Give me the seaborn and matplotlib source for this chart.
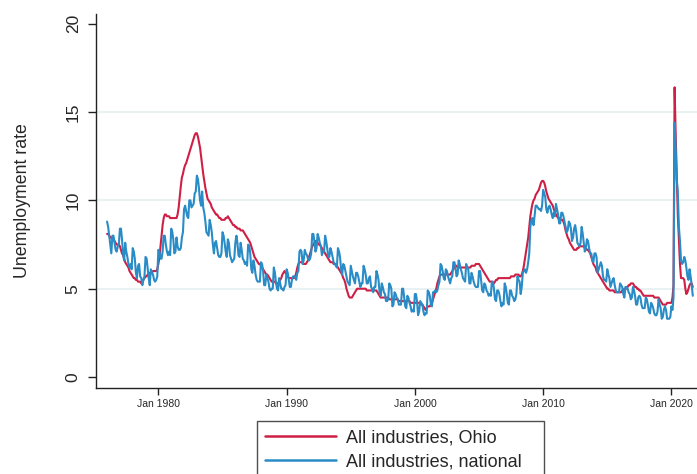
import matplotlib
matplotlib.use("Agg")
import matplotlib.pyplot as plt
import pandas as pd
import seaborn as sns

# Monthly unemployment rates, Jan 1976 - Sep 2021 (one row per year)
ohio_rate = [
    8.1, 8.1, 8.0, 7.9, 7.9, 7.8, 7.8, 7.7, 7.6, 7.5, 7.5, 7.5,
    7.4, 7.2, 7.0, 6.9, 6.7, 6.5, 6.4, 6.3, 6.2, 6.0, 5.9, 5.8,
    5.7, 5.6, 5.6, 5.5, 5.5, 5.4, 5.4, 5.4, 5.3, 5.4, 5.5, 5.6,
    5.7, 5.7, 5.8, 5.8, 5.9, 5.9, 5.9, 6.0, 6.0, 6.0, 6.0, 6.1,
    6.4, 6.8, 7.4, 8.0, 8.6, 9.0, 9.2, 9.2, 9.1, 9.1, 9.1, 9.0,
    9.0, 9.0, 9.0, 9.0, 9.0, 9.0, 9.2, 9.6, 10.2, 10.8, 11.3, 11.5,
    11.8, 12.0, 12.1, 12.3, 12.5, 12.7, 12.9, 13.1, 13.3, 13.5, 13.7, 13.8,
    13.8, 13.6, 13.3, 13.0, 12.5, 12.0, 11.5, 11.1, 10.7, 10.4, 10.1, 10.0,
    9.9, 9.8, 9.6, 9.5, 9.4, 9.3, 9.2, 9.2, 9.1, 9.0, 9.0, 8.9,
    8.9, 8.9, 8.9, 9.0, 9.0, 9.1, 9.0, 8.9, 8.8, 8.7, 8.6, 8.6,
    8.5, 8.5, 8.4, 8.4, 8.4, 8.3, 8.3, 8.3, 8.2, 8.1, 8.0, 7.9,
    7.8, 7.7, 7.6, 7.4, 7.2, 7.0, 6.8, 6.7, 6.6, 6.5, 6.4, 6.4,
    6.3, 6.2, 6.1, 6.0, 5.9, 5.8, 5.8, 5.7, 5.6, 5.5, 5.4, 5.4,
    5.4, 5.4, 5.3, 5.3, 5.3, 5.4, 5.5, 5.6, 5.8, 5.9, 6.0, 5.9,
    5.8, 5.7, 5.6, 5.6, 5.6, 5.6, 5.6, 5.6, 5.7, 5.9, 6.2, 6.4,
    6.5, 6.5, 6.5, 6.5, 6.4, 6.4, 6.4, 6.5, 6.6, 6.8, 7.0, 7.2,
    7.4, 7.5, 7.6, 7.7, 7.6, 7.6, 7.5, 7.5, 7.4, 7.3, 7.2, 7.1,
    7.0, 6.9, 6.8, 6.7, 6.6, 6.5, 6.5, 6.5, 6.4, 6.4, 6.4, 6.3,
    6.2, 6.1, 6.0, 5.9, 5.8, 5.6, 5.5, 5.3, 5.0, 4.8, 4.6, 4.5,
    4.5, 4.5, 4.6, 4.7, 4.8, 4.9, 5.0, 5.0, 5.0, 5.0, 5.0, 5.0,
    5.0, 5.0, 5.0, 4.9, 4.9, 4.9, 4.9, 4.9, 4.9, 4.9, 4.9, 4.9,
    4.9, 4.8, 4.7, 4.6, 4.5, 4.5, 4.5, 4.5, 4.5, 4.5, 4.5, 4.5,
    4.4, 4.4, 4.4, 4.4, 4.4, 4.4, 4.4, 4.4, 4.4, 4.3, 4.3, 4.3,
    4.3, 4.3, 4.3, 4.3, 4.3, 4.3, 4.3, 4.3, 4.2, 4.2, 4.2, 4.2,
    4.2, 4.2, 4.2, 4.2, 4.2, 4.2, 4.1, 4.1, 4.0, 3.9, 3.8, 3.9,
    4.0, 4.0, 4.0, 4.1, 4.2, 4.4, 4.6, 4.8, 5.0, 5.3, 5.5, 5.7,
    5.8, 5.8, 5.8, 5.8, 5.8, 5.8, 5.8, 5.8, 5.8, 5.8, 5.9, 6.0,
    6.1, 6.2, 6.3, 6.3, 6.2, 6.2, 6.2, 6.2, 6.2, 6.2, 6.2, 6.2,
    6.2, 6.2, 6.2, 6.2, 6.2, 6.3, 6.3, 6.3, 6.3, 6.4, 6.4, 6.4,
    6.4, 6.3, 6.2, 6.1, 6.0, 5.9, 5.8, 5.7, 5.6, 5.5, 5.4, 5.4,
    5.4, 5.3, 5.3, 5.4, 5.5, 5.5, 5.6, 5.6, 5.6, 5.6, 5.6, 5.6,
    5.6, 5.6, 5.6, 5.6, 5.6, 5.6, 5.7, 5.7, 5.7, 5.7, 5.8, 5.8,
    5.8, 5.8, 5.7, 5.7, 5.8, 6.0, 6.3, 6.7, 7.1, 7.5, 7.9, 8.5,
    9.1, 9.5, 9.8, 10.0, 10.1, 10.3, 10.4, 10.5, 10.6, 10.8, 11.0, 11.1,
    11.1, 11.0, 10.8, 10.5, 10.3, 10.1, 10.0, 9.9, 9.8, 9.7, 9.5, 9.3,
    9.2, 9.1, 9.0, 9.0, 8.9, 8.9, 8.9, 8.8, 8.6, 8.3, 8.1, 7.9,
    7.8, 7.6, 7.5, 7.4, 7.3, 7.2, 7.2, 7.2, 7.3, 7.3, 7.4, 7.4,
    7.4, 7.4, 7.4, 7.3, 7.3, 7.2, 7.2, 7.1, 7.0, 6.8, 6.6, 6.4,
    6.3, 6.2, 6.0, 5.9, 5.8, 5.7, 5.6, 5.5, 5.4, 5.3, 5.2, 5.1,
    5.0, 5.0, 4.9, 4.9, 4.9, 4.9, 4.9, 4.8, 4.8, 4.8, 4.8, 4.8,
    4.8, 4.8, 4.9, 4.9, 5.0, 5.0, 5.0, 5.1, 5.2, 5.2, 5.3, 5.3,
    5.3, 5.2, 5.1, 5.1, 5.0, 5.0, 4.9, 4.9, 4.8, 4.7, 4.6, 4.6,
    4.6, 4.6, 4.6, 4.6, 4.6, 4.6, 4.6, 4.6, 4.5, 4.5, 4.5, 4.5,
    4.5, 4.4, 4.3, 4.2, 4.1, 4.1, 4.1, 4.1, 4.2, 4.2, 4.2, 4.2,
    4.2, 4.5, 5.2, 16.4, 13.8, 11.4, 9.2, 7.8, 6.4, 5.6, 5.6, 5.6,
    5.5, 5.0, 4.7, 4.8, 5.0, 5.2, 5.3, 5.3, 5.1,
]

national_rate = [
    8.8, 8.5, 8.0, 7.5, 7.0, 8.0, 8.0, 7.6, 7.2, 7.1, 7.4, 7.5,
    8.4, 8.4, 7.8, 7.0, 6.6, 7.6, 7.1, 6.8, 6.4, 6.2, 6.4, 6.1,
    7.3, 7.1, 6.7, 5.9, 5.6, 6.3, 6.4, 5.7, 5.6, 5.2, 5.5, 5.7,
    6.8, 6.7, 6.2, 5.6, 5.2, 6.1, 5.9, 5.8, 5.5, 5.4, 5.5, 5.7,
    7.2, 7.1, 6.7, 6.7, 7.1, 8.0, 8.0, 7.5, 7.1, 6.9, 7.1, 6.9,
    8.4, 8.2, 7.8, 7.0, 7.1, 7.9, 7.4, 7.2, 7.2, 7.3, 7.9, 8.2,
    9.5, 9.7, 9.4, 9.1, 9.0, 10.0, 10.0, 9.6, 9.7, 9.8, 10.4, 10.5,
    11.4, 11.2, 10.7, 10.0, 9.7, 10.5, 9.6, 9.3, 8.8, 8.2, 8.1, 8.0,
    8.9, 8.6, 8.2, 7.5, 7.0, 7.6, 7.7, 7.3, 6.9, 6.8, 6.8, 7.0,
    8.2, 8.0, 7.6, 7.1, 6.8, 7.8, 7.6, 6.9, 6.7, 6.5, 6.6, 6.7,
    7.6, 8.0, 7.6, 6.9, 6.8, 7.6, 7.2, 6.7, 6.6, 6.4, 6.5, 6.3,
    7.5, 7.4, 7.0, 6.1, 5.9, 6.6, 6.3, 5.8, 5.5, 5.4, 5.4, 5.4,
    6.5, 6.4, 6.0, 5.2, 5.2, 5.8, 5.6, 5.4, 5.0, 4.9, 5.0, 5.0,
    6.2, 5.9, 5.4, 5.0, 4.9, 5.6, 5.3, 5.0, 5.0, 4.9, 5.1, 5.2,
    6.1, 5.9, 5.5, 5.1, 5.1, 5.5, 5.7, 5.7, 5.7, 5.5, 5.9, 6.0,
    7.1, 7.2, 7.1, 6.4, 6.6, 7.2, 7.0, 6.9, 6.7, 6.6, 6.7, 7.0,
    8.1, 8.1, 7.7, 7.1, 7.3, 8.1, 7.9, 7.6, 7.4, 6.9, 7.1, 7.1,
    8.0, 7.7, 7.3, 6.8, 6.8, 7.3, 7.1, 6.8, 6.5, 6.4, 6.3, 6.2,
    7.3, 7.1, 6.8, 6.1, 5.8, 6.4, 6.3, 6.0, 5.7, 5.4, 5.3, 5.2,
    6.3, 6.0, 5.7, 5.5, 5.3, 5.9, 5.9, 5.7, 5.4, 5.1, 5.3, 5.3,
    6.3, 6.1, 5.8, 5.3, 5.3, 5.6, 5.7, 5.1, 5.0, 4.8, 5.1, 5.1,
    6.0, 5.8, 5.5, 4.8, 4.6, 5.3, 5.1, 4.8, 4.7, 4.3, 4.3, 4.4,
    5.3, 5.2, 5.0, 4.0, 4.1, 4.8, 4.7, 4.5, 4.4, 4.1, 4.1, 4.1,
    5.0, 5.0, 4.5, 4.0, 3.9, 4.6, 4.5, 4.2, 4.0, 3.7, 3.8, 3.7,
    4.7, 4.7, 4.3, 3.5, 3.7, 4.3, 4.2, 4.1, 3.7, 3.5, 3.6, 3.6,
    4.9, 4.8, 4.6, 4.1, 4.0, 4.8, 4.8, 4.9, 4.8, 4.9, 5.2, 5.4,
    6.4, 6.3, 6.0, 5.6, 5.5, 6.1, 6.0, 5.7, 5.5, 5.3, 5.6, 5.7,
    6.5, 6.5, 6.2, 5.7, 5.8, 6.6, 6.4, 6.1, 5.9, 5.6, 5.5, 5.4,
    6.4, 6.2, 6.1, 5.3, 5.3, 5.9, 5.7, 5.4, 5.2, 5.1, 5.1, 5.1,
    6.0, 6.0, 5.5, 4.9, 4.8, 5.3, 5.2, 4.9, 4.8, 4.6, 4.7, 4.6,
    5.4, 5.4, 5.0, 4.4, 4.3, 4.9, 4.9, 4.7, 4.3, 4.0, 4.2, 4.1,
    5.3, 5.1, 4.7, 4.2, 4.1, 4.9, 4.9, 4.6, 4.5, 4.3, 4.4, 4.7,
    5.7, 5.5, 5.4, 4.7, 5.1, 5.9, 6.0, 6.1, 5.9, 6.1, 6.5, 7.0,
    8.5, 8.9, 9.0, 8.6, 9.1, 9.7, 9.7, 9.6, 9.5, 9.5, 9.4, 9.7,
    10.6, 10.4, 10.2, 9.5, 9.3, 9.6, 9.7, 9.5, 9.2, 9.0, 9.3, 9.1,
    9.8, 9.5, 9.2, 8.7, 8.7, 9.3, 9.3, 9.1, 8.8, 8.5, 8.2, 8.3,
    8.8, 8.7, 8.4, 7.7, 7.9, 8.4, 8.6, 8.2, 7.6, 7.5, 7.4, 7.6,
    8.5, 8.1, 7.6, 7.1, 7.3, 7.8, 7.7, 7.3, 7.0, 7.0, 6.6, 6.5,
    7.0, 7.0, 6.8, 5.9, 6.1, 6.3, 6.5, 6.3, 5.7, 5.5, 5.5, 5.4,
    6.1, 5.8, 5.6, 5.1, 5.3, 5.5, 5.6, 5.2, 4.9, 4.8, 4.8, 4.8,
    5.3, 5.2, 5.1, 4.7, 4.5, 5.1, 5.1, 5.0, 4.8, 4.7, 4.4, 4.5,
    5.1, 4.9, 4.6, 4.1, 4.1, 4.5, 4.6, 4.5, 4.1, 3.9, 3.9, 3.9,
    4.5, 4.4, 4.1, 3.7, 3.6, 4.2, 4.1, 3.9, 3.6, 3.5, 3.5, 3.7,
    4.4, 4.1, 3.9, 3.3, 3.4, 3.8, 4.0, 3.8, 3.3, 3.3, 3.3, 3.4,
    4.0, 3.8, 4.5, 14.4, 13.0, 11.2, 10.5, 8.5, 7.7, 6.6, 6.4, 6.5,
    6.8, 6.6, 6.2, 5.7, 5.5, 6.1, 5.7, 5.2, 4.6,
]

series_names = ["All industries, Ohio", "All industries, national"]
series_colors = ["#CF1F45", "#2A8CC6"]
y_ticks = [0, 5, 10, 15, 20]
x_tick_years = [1980, 1990, 2000, 2010, 2020]

months = pd.date_range("1976-01-01", periods=len(ohio_rate), freq="MS")
df = pd.concat([
    pd.DataFrame({"month": months, "rate": ohio_rate, "series": series_names[0]}),
    pd.DataFrame({"month": months, "rate": national_rate, "series": series_names[1]}),
], ignore_index=True)

sns.set_style("white")
plt.rcParams["font.family"] = ["Liberation Sans", "DejaVu Sans"]

W, H = 697, 474
fig = plt.figure(figsize=(W / 100, H / 100), dpi=100)
ax = fig.add_axes([96 / W, 86 / H, 601 / W, 374 / H])

sns.lineplot(data=df, x="month", y="rate", hue="series", hue_order=series_names,
             palette=series_colors, linewidth=1.5, ax=ax, legend=False)

ax.set_xlim(pd.Timestamp("1975-02-20"), pd.Timestamp("2021-12-30"))
ax.set_ylim(-0.62, 20.55)

ax.set_yticks(y_ticks)
ax.set_yticklabels([str(v) for v in y_ticks])
xt = [pd.Timestamp(f"{y}-01-01") for y in x_tick_years]
ax.set_xticks(xt)
ax.set_xticklabels([f"Jan {y}" for y in x_tick_years])

ax.yaxis.grid(True, color="#E8F0F1", linewidth=1.3)
ax.set_axisbelow(True)
for val, gl in zip(y_ticks, ax.get_ygridlines()):
    if val in (0, 20):
        gl.set_visible(False)

for side in ("top", "right"):
    ax.spines[side].set_visible(False)
for side in ("left", "bottom"):
    ax.spines[side].set_color("#222222")
    ax.spines[side].set_linewidth(1.0)

ax.tick_params(axis="y", length=6, width=1, color="#222222", pad=5,
               labelsize=12.5, left=True)
ax.tick_params(axis="x", length=5, width=1, color="#222222", pad=3,
               labelsize=7.5, bottom=True)
for lab in ax.get_yticklabels():
    lab.set_rotation(90)
    lab.set_va("center")

ax.set_xlabel("")
ax.set_ylabel("Unemployment rate", fontsize=12.8)
ax.yaxis.set_label_coords(-0.108, 0.5)

handles = ax.get_lines()[:2]
leg = fig.legend(handles, series_names, loc="upper left",
                 bbox_to_anchor=(257 / W, 0, 287 / W, 1 - 421 / H),
                 mode="expand", borderaxespad=0, fontsize=13,
                 handlelength=3.9, handletextpad=0.6, borderpad=0.45,
                 labelspacing=0.42, fancybox=False, frameon=True)
leg.get_frame().set_edgecolor("#222222")
leg.get_frame().set_linewidth(1.0)
for lh in leg.get_lines():
    lh.set_linewidth(1.8)

fig.savefig("out.png", dpi=100)
